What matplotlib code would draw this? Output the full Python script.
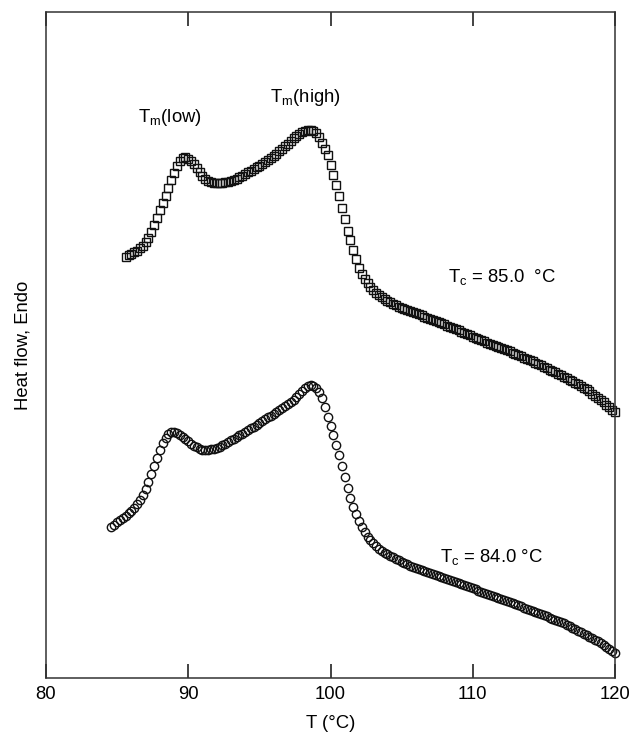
"""DSC melting endotherms after isothermal crystallisation at two Tc."""

import matplotlib

matplotlib.use("Agg")
import matplotlib.pyplot as plt
import numpy as np

plt.rcParams["font.family"] = ["Liberation Sans", "DejaVu Sans"]
plt.rcParams["mathtext.default"] = "regular"

# heat flow readings (arbitrary units), sampled every 0.2 degC
T_START_85 = 85.6
HEAT_85 = [
    421, 423, 424, 426, 427, 430, 432, 436, 440, 446, 453, 460, 468, 475, 482, 490,
    498, 505, 512, 517, 520, 521, 519, 517, 514, 510, 506, 502, 499, 497, 496, 495,
    495, 495, 495, 496, 496, 497, 498, 499, 501, 502, 504, 506, 507, 509, 511, 512,
    514, 516, 518, 520, 522, 524, 527, 529, 532, 534, 537, 540, 542, 544, 546, 547,
    548, 548, 547, 545, 541, 535, 529, 523, 513, 503, 493, 482, 470, 459, 447, 438,
    428, 419, 410, 404, 399, 395, 391, 388, 385, 383, 381, 379, 377, 376, 374, 373,
    371, 370, 369, 368, 367, 366, 365, 364, 363, 361, 360, 359, 358, 357, 356, 355,
    354, 352, 351, 350, 349, 348, 346, 345, 344, 343, 341, 340, 339, 338, 337, 335,
    334, 333, 332, 331, 330, 329, 328, 327, 325, 324, 323, 322, 320, 319, 318, 317,
    315, 314, 313, 311, 310, 308, 307, 306, 304, 303, 301, 300, 298, 297, 295, 294,
    292, 290, 289, 287, 284, 282, 280, 278, 276, 273, 271, 268, 266,
]

T_START_84 = 84.6
HEAT_84 = [
    151, 153, 156, 158, 160, 162, 165, 167, 170, 174, 178, 183, 189, 196, 204, 212,
    220, 228, 235, 240, 244, 246, 246, 245, 243, 241, 239, 237, 234, 232, 231, 229,
    228, 228, 228, 229, 229, 230, 231, 233, 234, 236, 238, 239, 241, 243, 244, 246,
    248, 250, 251, 253, 255, 257, 259, 261, 262, 264, 266, 268, 270, 272, 274, 276,
    278, 281, 284, 287, 290, 292, 293, 292, 290, 286, 280, 271, 261, 252, 243, 233,
    223, 212, 201, 190, 180, 171, 164, 157, 151, 146, 141, 138, 135, 132, 129, 127,
    125, 124, 122, 121, 119, 118, 116, 115, 114, 112, 111, 110, 109, 108, 107, 106,
    105, 104, 103, 102, 101, 100, 99, 98, 97, 96, 95, 94, 93, 92, 91, 90,
    89, 87, 86, 85, 84, 83, 82, 81, 80, 79, 78, 77, 76, 75, 74, 73,
    72, 70, 69, 68, 67, 66, 65, 64, 63, 62, 60, 59, 58, 57, 56, 55,
    53, 52, 50, 49, 47, 46, 44, 43, 41, 40, 38, 37, 35, 33, 31, 29,
    27, 25,
]
STEP = 0.2

X_TICKS = [80, 90, 100, 110, 120]


def main() -> None:
    t85 = T_START_85 + STEP * np.arange(len(HEAT_85))
    t84 = T_START_84 + STEP * np.arange(len(HEAT_84))

    fig = plt.figure(figsize=(6.33, 7.35), dpi=100)
    ax = fig.add_axes([0.0727, 0.0776, 0.8989, 0.9061])

    edge = "#111111"
    ax.plot(t85, HEAT_85, linestyle="none", marker="s", markersize=6.2, markerfacecolor="none",
            markeredgecolor=edge, markeredgewidth=1.0, clip_on=False)
    ax.plot(t84, HEAT_84, linestyle="none", marker="o", markersize=6.0, markerfacecolor="none",
            markeredgecolor=edge, markeredgewidth=1.0, clip_on=False)

    ax.set_xlim(80, 120)
    ax.set_ylim(0, 666)
    ax.set_xticks(X_TICKS)
    ax.tick_params(axis="y", left=False, labelleft=False)
    ax.tick_params(axis="x", direction="in", length=10, width=1.2,
                   top=True, bottom=True, pad=6, labelsize=13.3, color="#222222")
    for spine in ax.spines.values():
        spine.set_linewidth(1.1)
        spine.set_color("#333333")

    ax.set_xlabel("T (\u00b0C)", fontsize=13.3)
    ax.set_ylabel("Heat flow, Endo", fontsize=13.3)
    ax.xaxis.set_label_coords(0.5, -0.056)
    ax.yaxis.set_label_coords(-0.025, 0.5)

    fs = 13.3
    ax.text(86.47, 560, "T$_{m}$(low)", fontsize=fs, ha="left", va="center")
    ax.text(95.75, 580, "T$_{m}$(high)", fontsize=fs, ha="left", va="center")
    ax.text(108.26, 401, "T$_{c}$ = 85.0  \u00b0C", fontsize=fs, ha="left", va="center")
    ax.text(107.70, 121, "T$_{c}$ = 84.0 \u00b0C", fontsize=fs, ha="left", va="center")

    fig.savefig("out.png", dpi=100)
    plt.close(fig)


if __name__ == "__main__":
    main()
